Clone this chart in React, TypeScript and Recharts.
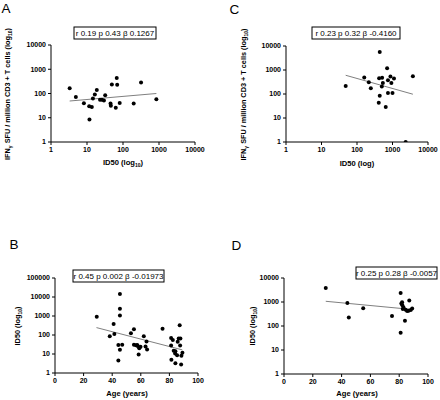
import { ScatterChart, Scatter, XAxis, YAxis, ReferenceLine } from 'recharts'

/* ── Data ── */
// A: ID50 vs IFNγ SFU
const aId50 = [3.3, 4.9, 8.2, 11.5, 13.6, 11.7, 14.6, 16.5, 18.7, 23, 26, 29.5, 32, 45, 46, 49, 63, 67, 69, 81, 198, 317, 845]
const aIfn = [165, 72, 40, 30, 28, 8.4, 62, 91, 141, 55, 55, 51, 85, 39, 31, 235, 26, 440, 228, 41, 39, 284, 58]
const aFitX = [3.3, 845]
const aFitY = [49, 100]

// C: ID50 vs IFNγ SFU
const cId50 = [48, 160, 215, 245, 437, 420, 510, 535, 500, 437, 410, 645, 705, 745, 745, 875, 930, 1100, 1000, 3750, 2350]
const cIfn = [218, 488, 310, 175, 5600, 455, 470, 290, 205, 84, 43, 29, 1180, 375, 111, 537, 290, 445, 111, 550, 1]
const cFitX = [48, 3750]
const cFitY = [603, 98]

// B: age vs ID50
const bAge = [29.2, 45.4, 45.4, 45.4, 41, 41.5, 38.3, 44.3, 47, 45.4, 44.3, 53.1, 55.2, 55.2, 56.6, 57.5, 57.8, 58.9, 58.5, 59.8, 62.1, 64, 64.4, 63.3, 75.2, 87.2, 81.2, 82.4, 81.2, 83, 84.2, 84, 85.4, 85.8, 86.5, 87.7, 87.5, 88.4, 89.1, 81.4, 84.2, 88.2]
const bId50 = [910, 14500, 2400, 1070, 380, 113, 86, 30, 31, 16.6, 4.6, 123, 200, 31, 29, 30, 26, 20, 9.4, 24, 86, 45, 17, 25, 215, 330, 70, 55, 28, 15, 14, 10.7, 8.7, 44, 65, 65, 28, 8.1, 11.5, 5, 3.3, 2.8]
const bFitX = [29, 89]
const bFitY = [245, 16.5]

// D: age vs ID50
const dAge = [29, 44, 45, 55, 75, 81, 81, 81.5, 82, 82.2, 82.5, 83, 84, 84.5, 85.5, 86.5, 87, 88, 89]
const dId50 = [3800, 910, 225, 555, 264, 2350, 52, 870, 980, 740, 515, 590, 165, 470, 420, 430, 1150, 460, 530]
const dFitX = [29, 89]
const dFitY = [1070, 487]

const logTicks4 = [1, 10, 100, 1000, 10000]
const logTicks5 = [1, 10, 100, 1000, 10000, 100000]
const ageTicks = [0, 20, 40, 60, 80, 100]

/* ── Styles ── */
const font = '"Liberation Sans", Arial, Helvetica, sans-serif'
const tick = { fill: '#000', fontSize: 7, fontWeight: 700, fontFamily: font }
const axisLine = { stroke: '#000', strokeWidth: 1 }

const zip = (xs: number[], ys: number[]) => xs.map((x, i) => ({ x, y: ys[i] }))

const Dot = (p: any) => <circle cx={p.cx} cy={p.cy} r={2} fill="#000" />

interface PanelProps {
  left: number
  top: number
  margin: { top: number; right: number; bottom: number; left: number }
  yWidth: number
  xLog: boolean
  xDomain: number[]
  xTicks: number[]
  yDomain: number[]
  yTicks: number[]
  xs: number[]
  ys: number[]
  fitX: number[]
  fitY: number[]
}

function Panel(p: PanelProps) {
  return (
    <div style={{ position: 'absolute', left: p.left, top: p.top }}>
      <ScatterChart width={220} height={200} margin={p.margin}>
        <XAxis
          type="number"
          dataKey="x"
          scale={p.xLog ? 'log' : 'linear'}
          domain={p.xDomain}
          ticks={p.xTicks}
          interval={0}
          allowDataOverflow
          height={20}
          tick={tick}
          tickSize={3}
          axisLine={axisLine}
          tickLine={axisLine}
        />
        <YAxis
          type="number"
          dataKey="y"
          scale="log"
          domain={p.yDomain}
          ticks={p.yTicks}
          interval={0}
          allowDataOverflow
          width={p.yWidth}
          tick={tick}
          tickSize={3}
          axisLine={axisLine}
          tickLine={axisLine}
        />
        <ReferenceLine
          segment={[{ x: p.fitX[0], y: p.fitY[0] }, { x: p.fitX[1], y: p.fitY[1] }]}
          stroke="#808080"
          strokeWidth={1}
        />
        <Scatter data={zip(p.xs, p.ys)} isAnimationActive={false} shape={Dot} />
      </ScatterChart>
    </div>
  )
}

const Sub = ({ children }: { children: string }) => (
  <tspan fontSize={5} dy={2}>{children}</tspan>
)

function StatBox({ x, y, w, text }: { x: number; y: number; w: number; text: string }) {
  return (
    <g>
      <rect x={x} y={y} width={w} height={12} fill="#fff" stroke="#000" strokeWidth={1} />
      <text x={x + w / 2} y={y + 9} textAnchor="middle" fontSize={8} fontFamily={font} fill="#000">{text}</text>
    </g>
  )
}

function YTitle({ x, y, children }: { x: number; y: number; children: any }) {
  return (
    <text x={x} y={y} transform={`rotate(-90 ${x} ${y})`} textAnchor="middle" fontSize={7.3} fontWeight={700} fontFamily={font} fill="#000">
      {children}
    </text>
  )
}

function XTitle({ x, y, children }: { x: number; y: number; children: any }) {
  return (
    <text x={x} y={y} textAnchor="middle" fontSize={7.6} fontWeight={700} fontFamily={font} fill="#000">
      {children}
    </text>
  )
}

export default function App() {
  return (
    <div style={{ position: 'absolute', left: 0, top: 0, width: 440, height: 400, background: '#fff' }}>
      <Panel left={0} top={0} margin={{ top: 45, right: 25, bottom: 38, left: 0 }} yWidth={51}
        xLog xDomain={[1, 10000]} xTicks={logTicks4} yDomain={[1, 10000]} yTicks={logTicks4}
        xs={aId50} ys={aIfn} fitX={aFitX} fitY={aFitY} />
      <Panel left={220} top={0} margin={{ top: 46, right: 12, bottom: 38, left: 0 }} yWidth={66}
        xLog xDomain={[1, 10000]} xTicks={logTicks4} yDomain={[1, 10000]} yTicks={logTicks4}
        xs={cId50} ys={cIfn} fitX={cFitX} fitY={cFitY} />
      <Panel left={0} top={200} margin={{ top: 78, right: 22, bottom: 7, left: 0 }} yWidth={55}
        xLog={false} xDomain={[0, 100]} xTicks={ageTicks} yDomain={[1, 100000]} yTicks={logTicks5}
        xs={bAge} ys={bId50} fitX={bFitX} fitY={bFitY} />
      <Panel left={220} top={200} margin={{ top: 78, right: 12, bottom: 6, left: 0 }} yWidth={64}
        xLog={false} xDomain={[0, 100]} xTicks={ageTicks} yDomain={[1, 10000]} yTicks={logTicks4}
        xs={dAge} ys={dId50} fitX={dFitX} fitY={dFitY} />

      <svg width={440} height={400} style={{ position: 'absolute', left: 0, top: 0, pointerEvents: 'none' }}>
        <g fontFamily={font} fontSize={13.5} fill="#000">
          <text x={1.5} y={13.3}>A</text>
          <text x={229.5} y={14}>C</text>
          <text x={9.5} y={249}>B</text>
          <text x={231.5} y={250}>D</text>
        </g>

        <StatBox x={74} y={27} w={82} text="r 0.19 p 0.43 β 0.1267" />
        <StatBox x={312} y={27} w={88} text="r 0.23 p 0.32 β -0.4160" />
        <StatBox x={73} y={270} w={91} text="r 0.45 p 0.002 β -0.01973" />
        <StatBox x={356} y={267} w={81} text="r 0.25 p 0.28 β -0.0057" />

        <YTitle x={10} y={94}>IFN<Sub>γ</Sub><tspan dy={-2}> SFU / million CD3 + T cells (log</tspan><Sub>10</Sub><tspan dy={-2}>)</tspan></YTitle>
        <YTitle x={245.5} y={94.5}>IFN<Sub>γ</Sub><tspan dy={-2}> SFU / million CD3 + T cells (log</tspan><Sub>10</Sub><tspan dy={-2}>)</tspan></YTitle>
        <YTitle x={19.5} y={326}>ID50 (log<Sub>10</Sub><tspan dy={-2}>)</tspan></YTitle>
        <YTitle x={255} y={326}>ID50 (log<Sub>10</Sub><tspan dy={-2}>)</tspan></YTitle>

        <XTitle x={123} y={165}>ID50 (log<Sub>10</Sub><tspan dy={-2}>)</tspan></XTitle>
        <XTitle x={357} y={165.5}>ID50 (log)</XTitle>
        <XTitle x={127} y={395.5}>Age (years)</XTitle>
        <XTitle x={357} y={395.5}>Age (years)</XTitle>
      </svg>
    </div>
  )
}
